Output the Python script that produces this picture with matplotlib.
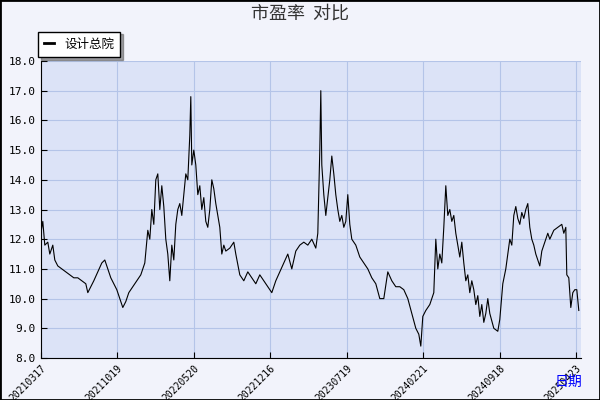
import numpy as np
import matplotlib.pyplot as plt
from matplotlib.patches import Rectangle

plt.rcParams['font.family'] = ['Noto Sans CJK SC', 'DejaVu Sans']

# offset along the time axis (half trading days), PE value
offset = [0, 2, 4, 7, 9, 12, 14, 17, 21, 25, 29, 33, 37, 41, 45, 47, 50, 53, 57, 61, 64, 67, 70, 73, 76, 79, 82,
          85, 88, 92, 96, 100, 104, 107, 109, 111, 113, 115, 117, 119, 121, 123, 125, 127, 129, 131, 133, 135,
          137, 139, 141, 143, 145, 147, 149, 150, 151, 153, 155, 157, 159, 161, 163, 165, 167, 169, 171, 173,
          175, 177, 179, 181, 183, 185, 189, 193, 195, 199, 203, 207, 211, 215, 219, 223, 227, 231, 235, 239,
          243, 247, 251, 255, 259, 263, 267, 271, 275, 277, 279, 280, 281, 283, 285, 287, 289, 291, 293, 295,
          297, 299, 301, 303, 305, 307, 309, 311, 315, 319, 323, 327, 331, 335, 339, 343, 347, 351, 355, 359,
          363, 367, 371, 375, 378, 380, 382, 385, 389, 393, 395, 397, 399, 401, 403, 405, 407, 409, 411, 413,
          415, 417, 419, 421, 423, 425, 427, 429, 431, 433, 435, 437, 439, 441, 443, 445, 447, 449, 453, 457,
          459, 462, 465, 467, 469, 471, 473, 475, 477, 479, 481, 483, 485, 487, 489, 491, 493, 495, 497, 499,
          501, 503, 505, 507, 509, 513, 517, 521, 523, 525, 526, 528, 530, 532, 534, 536, 538]
pe = [12.2, 12.6, 11.8, 11.9, 11.5, 11.8, 11.3, 11.1, 11.0, 10.9, 10.8, 10.7, 10.7, 10.6, 10.5, 10.2, 10.4,
      10.6, 10.9, 11.2, 11.3, 11.0, 10.7, 10.5, 10.3, 10.0, 9.7, 9.9, 10.2, 10.4, 10.6, 10.8, 11.2, 12.3, 12.0,
      13.0, 12.5, 14.0, 14.2, 13.0, 13.8, 13.1, 12.0, 11.5, 10.6, 11.8, 11.3, 12.5, 13.0, 13.2, 12.8, 13.5,
      14.2, 14.0, 15.5, 16.8, 14.5, 15.0, 14.5, 13.5, 13.8, 13.0, 13.4, 12.6, 12.4, 13.0, 14.0, 13.7, 13.2,
      12.8, 12.4, 11.5, 11.8, 11.6, 11.7, 11.9, 11.5, 10.8, 10.6, 10.9, 10.7, 10.5, 10.8, 10.6, 10.4, 10.2,
      10.6, 10.9, 11.2, 11.5, 11.0, 11.6, 11.8, 11.9, 11.8, 12.0, 11.7, 12.2, 15.0, 17.0, 14.5, 13.5, 12.8,
      13.4, 14.0, 14.8, 14.2, 13.5, 13.0, 12.6, 12.8, 12.4, 12.6, 13.5, 12.5, 12.0, 11.8, 11.4, 11.2, 11.0,
      10.7, 10.5, 10.0, 10.0, 10.9, 10.6, 10.4, 10.4, 10.3, 10.0, 9.5, 9.0, 8.8, 8.4, 9.4, 9.6, 9.8, 10.2,
      12.0, 11.0, 11.5, 11.2, 12.4, 13.8, 12.8, 13.0, 12.6, 12.8, 12.2, 11.8, 11.4, 11.9, 11.2, 10.6, 10.8,
      10.2, 10.6, 10.3, 9.8, 10.1, 9.4, 9.8, 9.2, 9.5, 10.0, 9.5, 9.0, 8.9, 9.3, 10.5, 11.0, 11.5, 12.0, 11.8,
      12.8, 13.1, 12.7, 12.5, 12.9, 12.7, 13.0, 13.2, 12.4, 12.0, 11.8, 11.5, 11.3, 11.1, 11.6, 11.8, 12.0,
      12.2, 12.0, 12.3, 12.4, 12.5, 12.2, 12.4, 10.8, 10.7, 9.7, 10.2, 10.3, 10.3, 9.6]
tick_labels = ["20210317", "20211019", "20220520", "20221216", "20230719", "20240221", "20240918", "20250423"]

day = np.array(offset) * 2
ticks = np.arange(len(tick_labels)) * 153

fig = plt.figure(figsize=(6, 4), dpi=100, facecolor="#f2f3fb")
fig.patches.append(Rectangle((0, 0), 1, 1, transform=fig.transFigure, fill=False,
                             edgecolor="black", linewidth=2))
ax = fig.add_axes([0.068, 0.105, 0.9, 0.7425], facecolor="#dce3f7")
ax.plot(day, pe, color="black", linewidth=0.8, label="设计总院")
ax.set_xlim(0, 1080)
ax.set_ylim(8, 18)
ax.set_yticks(np.arange(8, 18.1, 1))
ax.set_yticklabels([f"{v:.1f}" for v in np.arange(8, 18.1, 1)], fontsize=8, family="DejaVu Sans Mono")
ax.set_xticks(ticks)
ax.set_xticklabels(tick_labels, rotation=45, ha="right", rotation_mode="anchor", fontsize=7,
                   family="DejaVu Sans Mono")
ax.grid(True, color="#b4c4e8", linewidth=0.8)
for s in ["top", "right"]:
    ax.spines[s].set_visible(False)
ax.tick_params(direction="in", length=4)
fig.text(0.5, 0.965, "市盈率  对比", ha="center", va="center", fontsize=13, color="#333333")
fig.text(0.925, 0.045, "日期", color="blue", fontsize=10, ha="left", va="center")
leg = ax.legend(loc="lower left", bbox_to_anchor=(-0.01, 1.005), fontsize=9, fancybox=False,
                shadow=True, edgecolor="black", framealpha=1, handlelength=0.8,
                borderpad=0.5, borderaxespad=0.2)
leg.get_frame().set_linewidth(1.0)
for line in leg.get_lines():
    line.set_linewidth(2)
leg.get_texts()[0].set_position((0, 0))
fig.savefig("out.png", facecolor=fig.get_facecolor())
